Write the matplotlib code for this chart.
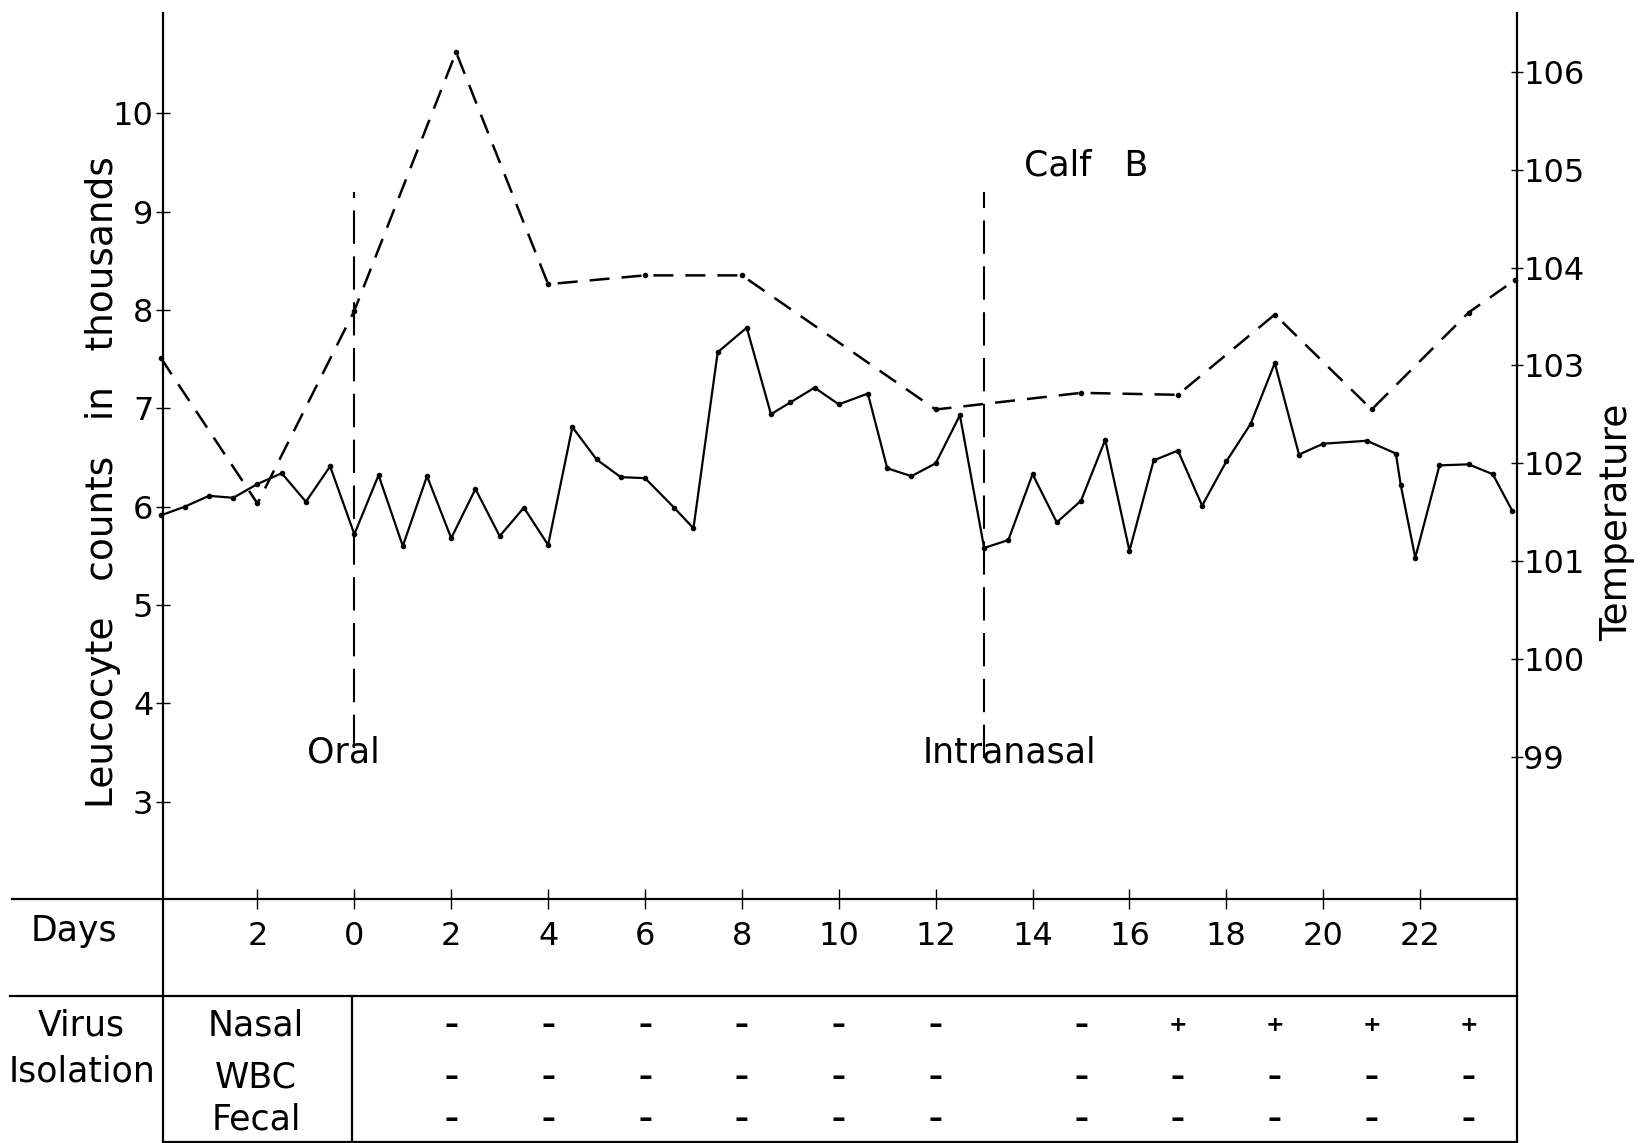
import numpy as np
import matplotlib.pyplot as plt

plt.rcParams['font.family'] = ['DejaVu Sans']

# 백혈구 수 (천 단위) - 실선
wbc_day = [-4, -3.5, -3, -2.5, -2, -1.5, -1, -0.5, 0, 0.5, 1, 1.5, 2, 2.5, 3, 3.5,
           4, 4.5, 5, 5.5, 6, 6.6, 7, 7.5, 8.1, 8.6, 9, 9.5, 10, 10.6, 11, 11.5,
           12, 12.5, 13, 13.5, 14, 14.5, 15, 15.5, 16, 16.5, 17, 17.5, 18, 18.5,
           19, 19.5, 20, 20.9, 21.5, 21.6, 21.9, 22.4, 23, 23.5, 23.9]
wbc_val = [5.91, 6.00, 6.11, 6.09, 6.23, 6.34, 6.05, 6.41, 5.72, 6.32, 5.60, 6.31,
           5.68, 6.18, 5.70, 5.99, 5.61, 6.81, 6.48, 6.30, 6.29, 5.99, 5.78, 7.57,
           7.82, 6.94, 7.06, 7.21, 7.04, 7.15, 6.39, 6.31, 6.44, 6.93, 5.58, 5.66,
           6.33, 5.84, 6.06, 6.68, 5.55, 6.47, 6.57, 6.01, 6.46, 6.84, 7.46, 6.53,
           6.64, 6.67, 6.54, 6.22, 5.48, 6.42, 6.43, 6.33, 5.96]

# 체온 - 점선
temp_day = [-4, -2, 0, 2.1, 4, 6, 8, 12, 15, 17, 19, 21, 23, 23.95]
temp_val = [103.08, 101.59, 103.56, 106.2, 103.83, 103.92, 103.92, 102.55,
            102.72, 102.7, 103.52, 102.55, 103.54, 103.87]

# 바이러스 분리 결과
iso_day = [2, 4, 6, 8, 10, 12, 15, 17, 19, 21, 23]
nasal = ['–', '–', '–', '–', '–', '–', '–', '+', '+', '+', '+']
wbc_iso = ['–'] * 11
fecal = ['–'] * 11

day_ticks = list(range(-2, 23, 2))
day_labels = [str(abs(d)) for d in day_ticks]
inoc_days = [0, 13]

W, H = 1643, 1143
fig = plt.figure(figsize=(W / 100, H / 100), dpi=100)
FS = 23   # 눈금 글자
WS = 25   # 단어 글자

x0, x1 = 163 / W, 1517 / W
y_days = 1 - 899 / H
ax = fig.add_axes([x0, y_days, x1 - x0, (899 - 13) / H])
ax.set_xlim(-3.95, 24.0)
ax.set_ylim(2.01, 11.02)
for s in ['top', 'right', 'bottom']:
    ax.spines[s].set_visible(False)
ax.spines['left'].set_linewidth(1.6)
ax.set_yticks(range(3, 11))
ax.tick_params(axis='y', direction='inout', length=10, width=1, pad=2, labelsize=FS)
ax.set_xticks(day_ticks)
ax.set_xticklabels(day_labels)
ax.tick_params(axis='x', direction='inout', length=14, width=1, pad=9, labelsize=FS)

ax.plot(wbc_day, wbc_val, color='k', lw=1.6, marker='o', ms=3, clip_on=False)

for d in inoc_days:
    ax.plot([d, d], [3.55 if d == 0 else 3.44, 9.2], color='k', lw=1.5,
            dashes=(16, 6), clip_on=False)

ax2 = ax.twinx()
ax2.set_ylim(97.55, 106.6)
for s in ['top', 'left', 'bottom']:
    ax2.spines[s].set_visible(False)
ax2.spines['right'].set_linewidth(1.6)
ax2.set_yticks(range(99, 107))
ax2.tick_params(axis='y', direction='inout', length=9, width=1, pad=0, labelsize=FS)
ax2.plot(temp_day, temp_val, color='k', lw=1.8, dashes=(8, 4.8), marker='o',
         ms=3, clip_on=False)

ax.text(15.1, 9.47, 'Calf   B', fontsize=WS, ha='center', va='center')
ax.text(-0.98, 3.5, 'Oral', fontsize=WS, ha='left', va='center')
ax.text(11.73, 3.5, 'Intranasal', fontsize=WS, ha='left', va='center')

fig.text(103 / W, 1 - 482 / H, 'Leucocyte   counts   in   thousands', fontsize=27,
         rotation=90, ha='center', va='center')
fig.text(1617 / W, 1 - 522 / H, 'Temperature', fontsize=27, rotation=90,
         ha='center', va='center')

# 아래 표
tab = fig.add_axes([x0, 0, x1 - x0, y_days])
tab.set_xlim(ax.get_xlim())
tab.set_ylim(H, 899)
tab.axis('off')


def px2day(px):
    return (px - 354.3) / 48.4


kw = dict(color='k', lw=1.6, clip_on=False)
tab.plot([px2day(12), 24.0], [899, 899], **kw)
tab.plot([px2day(10), 24.0], [996, 996], **kw)
tab.plot([-3.95, 24.0], [1141.5, 1141.5], **kw)
tab.plot([-3.95, -3.95], [899, H], **kw)
tab.plot([24.0, 24.0], [899, H], **kw)
tab.plot([px2day(352.3)] * 2, [996, H], **kw)

tab.text(px2day(74), 931, 'Days', fontsize=WS, ha='center', va='center', clip_on=False)
tab.text(px2day(81), 1025, 'Virus', fontsize=WS, ha='center', va='center', clip_on=False)
tab.text(px2day(82), 1072, 'Isolation', fontsize=WS, ha='center', va='center', clip_on=False)
row_y = [1025, 1077, 1119]
for name, y in zip(['Nasal', 'WBC', 'Fecal'], row_y):
    tab.text(px2day(256), y, name, fontsize=WS, ha='center', va='center')

for res, y in zip([nasal, wbc_iso, fecal], row_y):
    for d, r in zip(iso_day, res):
        tab.text(d, y, r, fontsize=20 if r == '–' else 16, ha='center', va='center',
                 fontweight='bold')

fig.savefig('out.png', dpi=100)
